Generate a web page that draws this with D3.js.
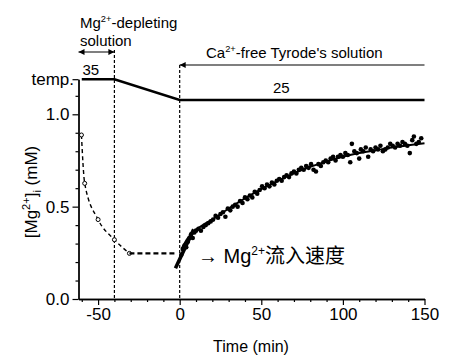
<!DOCTYPE html>
<html>
<head>
<meta charset="utf-8">
<script src="https://cdn.jsdelivr.net/npm/d3@7"></script>
<style>
  body { margin: 0; background: #fff; }
  text { font-family: "Liberation Sans", Arial, "Noto Sans CJK SC", sans-serif; fill: #000; }
</style>
</head>
<body>
<div id="chart"></div>
<script>
// depletion phase, open circles
var depTime = [-60.2, -58.2, -50, -40, -30.8];
var depMg   = [0.888, 0.626, 0.43, 0.321, 0.247];

// plateau before re-admission
var plateauTime = [-30.8, -2];
var plateauMg   = [0.247, 0.247];

// initial slope (influx rate)
var slopeTime = [-2.6, 8.6];
var slopeMg   = [0.166, 0.377];

// fitted recovery curve
var fitTime = [1, 5, 10, 15, 20, 30, 40, 50, 60, 70, 80, 90, 100, 110, 120, 130, 140, 150];
var fitMg   = [0.27, 0.33, 0.375, 0.405, 0.43, 0.49, 0.545, 0.595, 0.64, 0.68, 0.715, 0.745, 0.77, 0.79, 0.805, 0.82, 0.832, 0.843];

// measured recovery points
var dotTime = [1, 2, 3, 4, 5, 6, 7, 8, 9, 10, 11.5, 13, 14.5, 16, 17.5, 19, 20.5, 22, 23.5, 25,
  26.5, 28, 29.5, 31, 32.5, 34, 35.5, 37, 38.5, 40, 41.5, 43, 44.5, 46, 47.5, 49, 50.5, 52, 53.5, 55,
  56.5, 58, 59.5, 61, 62.5, 64, 65.5, 67, 68.5, 70, 71.5, 73, 74.5, 76, 77.5, 79, 80.5, 82, 83.5, 85,
  86.5, 88, 89.5, 91, 92.5, 94, 95.5, 97, 98.5, 100, 101.5, 103, 104.5, 105.5, 107, 108.5, 110, 111, 112.5, 114,
  115.5, 117, 118.5, 120, 121.5, 123, 124.5, 126, 127.5, 129, 130.5, 132, 133.5, 135, 136.5, 138, 139.5, 141, 142.5, 143.5,
  145, 146.5, 148];
var dotMg = [0.24, 0.27, 0.29, 0.28, 0.31, 0.33, 0.35, 0.33, 0.36, 0.37, 0.38, 0.37, 0.39, 0.40, 0.41, 0.42, 0.43, 0.45, 0.44, 0.46,
  0.47, 0.445, 0.49, 0.48, 0.50, 0.51, 0.50, 0.53, 0.52, 0.55, 0.54, 0.56, 0.55, 0.58, 0.57, 0.59, 0.61, 0.60, 0.62, 0.61,
  0.63, 0.62, 0.64, 0.65, 0.64, 0.66, 0.67, 0.66, 0.68, 0.69, 0.68, 0.70, 0.71, 0.70, 0.72, 0.71, 0.73, 0.70, 0.69, 0.73,
  0.72, 0.74, 0.75, 0.74, 0.76, 0.77, 0.75, 0.77, 0.78, 0.77, 0.79, 0.78, 0.74, 0.84, 0.80, 0.79, 0.76, 0.81, 0.80, 0.82,
  0.77, 0.81, 0.80, 0.82, 0.81, 0.83, 0.80, 0.81, 0.82, 0.84, 0.83, 0.82, 0.84, 0.83, 0.85, 0.84, 0.83, 0.79, 0.86, 0.88,
  0.84, 0.85, 0.87];

// bath temperature profile
var tempTime = [-60, -40, 0, 150];
var tempC    = [35, 35, 25, 25];

var xMajor = [-50, 0, 50, 100, 150];
var xMinor = [-60, -40, -30, -20, -10, 10, 20, 30, 40, 60, 70, 80, 90, 110, 120, 130, 140];
var yMajor = [0, 0.5, 1.0];
var yMinor = [0.1, 0.2, 0.3, 0.4, 0.6, 0.7, 0.8, 0.9, 1.1];

var W = 451, H = 360;

var x = d3.scaleLinear().domain([-62, 150]).range([78.5, 424.5]);
var y = d3.scaleLinear().domain([0, 1.19]).range([299, 79.2]);
// temperature is drawn in the strip above 1.0
var yT = d3.scaleLinear().domain([25, 35]).range([y(1.077), y(1.19)]);

var svg = d3.select("#chart").append("svg")
  .attr("width", W)
  .attr("height", H);

var defs = svg.append("defs");
defs.append("marker")
  .attr("id", "ah")
  .attr("viewBox", "0 0 10 10")
  .attr("refX", 10).attr("refY", 5)
  .attr("markerUnits", "userSpaceOnUse")
  .attr("markerWidth", 9).attr("markerHeight", 6)
  .attr("orient", "auto-start-reverse")
  .append("path")
  .attr("d", "M0,0L10,5L0,10z")
  .attr("fill", "#000");

// axes: minor then major ticks
svg.append("g")
  .attr("transform", "translate(0," + y(0) + ")")
  .call(d3.axisBottom(x).tickValues(xMinor).tickSize(3).tickFormat("").tickSizeOuter(0));
var gx = svg.append("g")
  .attr("transform", "translate(0," + y(0) + ")")
  .call(d3.axisBottom(x).tickValues(xMajor).tickSize(6).tickPadding(3)
    .tickFormat(d => String(d)).tickSizeOuter(0));
gx.selectAll("text").attr("font-size", 17).attr("font-family", null);

svg.append("g")
  .attr("transform", "translate(" + x(-62) + ",0)")
  .call(d3.axisLeft(y).tickValues(yMinor).tickSize(3).tickFormat("").tickSizeOuter(0));
var gy = svg.append("g")
  .attr("transform", "translate(" + x(-62) + ",0)")
  .call(d3.axisLeft(y).tickValues(yMajor.concat([1.19])).tickSize(6).tickPadding(3)
    .tickFormat(d => d > 1.1 ? "" : d.toFixed(1)).tickSizeOuter(0));
gy.selectAll("text").attr("font-size", 17).attr("font-family", null);
svg.selectAll(".domain").attr("stroke-width", 1.3);
svg.selectAll(".tick line").attr("stroke-width", 1.2);

svg.append("text")
  .attr("x", 74).attr("y", 85)
  .attr("text-anchor", "end")
  .attr("font-size", 17)
  .text("temp.");

svg.append("text")
  .attr("text-anchor", "middle")
  .attr("x", 251).attr("y", 352)
  .attr("font-size", 16)
  .text("Time (min)");

var yl = svg.append("text")
  .attr("text-anchor", "middle")
  .attr("transform", "translate(37,192) rotate(-90)")
  .attr("font-size", 17);
yl.append("tspan").text("[Mg");
yl.append("tspan").attr("font-size", 11).attr("dy", -7).text("2+");
yl.append("tspan").attr("dy", 7).text("]");
yl.append("tspan").attr("font-size", 11).attr("dy", 4).text("i");
yl.append("tspan").attr("dy", -4).text("  (mM)");

// dashed markers for solution changes
svg.append("line")
  .attr("x1", x(-40)).attr("x2", x(-40))
  .attr("y1", 50).attr("y2", y(0))
  .attr("stroke", "#000").attr("stroke-width", 1.2).attr("stroke-dasharray", "3,2");
svg.append("line")
  .attr("x1", x(0)).attr("x2", x(0))
  .attr("y1", 65).attr("y2", y(0))
  .attr("stroke", "#000").attr("stroke-width", 1.2).attr("stroke-dasharray", "3,2");

// solution arrows
svg.append("line")
  .attr("x1", x(-62)).attr("x2", x(-40))
  .attr("y1", 52).attr("y2", 52)
  .attr("stroke", "#000").attr("stroke-width", 1.2)
  .attr("marker-start", "url(#ah)").attr("marker-end", "url(#ah)");
svg.append("line")
  .attr("x1", x(150)).attr("x2", x(0))
  .attr("y1", 65).attr("y2", 65)
  .attr("stroke", "#000").attr("stroke-width", 1.2)
  .attr("marker-end", "url(#ah)");

function supText(xp, yp, fs, parts) {
  var t = svg.append("text").attr("x", xp).attr("y", yp).attr("font-size", fs);
  parts.forEach(function (p) {
    if (p.sup) t.append("tspan").attr("font-size", fs * 0.62).attr("dy", -fs * 0.42).text(p.s);
    else t.append("tspan").attr("dy", p.back ? fs * 0.42 : 0).text(p.s);
  });
  return t;
}
supText(80, 28, 15, [{s: "Mg"}, {s: "2+", sup: true}, {s: "-depleting", back: true}]);
svg.append("text").attr("x", 80).attr("y", 46).attr("font-size", 15).text("solution");
supText(206, 58, 15, [{s: "Ca"}, {s: "2+", sup: true}, {s: "-free Tyrode's solution", back: true}]);

// temperature trace
var tempPts = tempTime.map((t, i) => [t, tempC[i]]);
svg.append("path")
  .datum(tempPts)
  .attr("fill", "none").attr("stroke", "#000").attr("stroke-width", 2.6)
  .attr("d", d3.line().x(d => x(d[0])).y(d => yT(d[1])));
svg.append("text").attr("x", 82.5).attr("y", 75).attr("font-size", 15).text("35");
svg.append("text").attr("x", 273).attr("y", 93).attr("font-size", 15).text("25");

// depletion curve
var depPts = depTime.map((t, i) => [t, depMg[i]]);
svg.append("path")
  .datum(depPts)
  .attr("fill", "none").attr("stroke", "#000").attr("stroke-width", 1.4)
  .attr("stroke-dasharray", "4,3")
  .attr("d", d3.line().curve(d3.curveMonotoneX).x(d => x(d[0])).y(d => y(d[1])));
svg.selectAll(".dep")
  .data(depPts).enter().append("circle")
  .attr("cx", d => x(d[0])).attr("cy", d => y(d[1]))
  .attr("r", 2).attr("fill", "#fff").attr("stroke", "#000").attr("stroke-width", 1);

svg.append("path")
  .datum(plateauTime.map((t, i) => [t, plateauMg[i]]))
  .attr("fill", "none").attr("stroke", "#000").attr("stroke-width", 2.2)
  .attr("stroke-dasharray", "5,3")
  .attr("d", d3.line().x(d => x(d[0])).y(d => y(d[1])));

// recovery
svg.selectAll(".dot")
  .data(dotTime.map((t, i) => [t, dotMg[i]])).enter().append("circle")
  .attr("cx", d => x(d[0])).attr("cy", d => y(d[1]))
  .attr("r", 2.3).attr("fill", "#000");

svg.append("path")
  .datum(fitTime.map((t, i) => [t, fitMg[i]]))
  .attr("fill", "none").attr("stroke", "#000").attr("stroke-width", 2)
  .attr("d", d3.line().curve(d3.curveMonotoneX).x(d => x(d[0])).y(d => y(d[1])));

svg.append("path")
  .datum(slopeTime.map((t, i) => [t, slopeMg[i]]))
  .attr("fill", "none").attr("stroke", "#000").attr("stroke-width", 3.6)
  .attr("d", d3.line().x(d => x(d[0])).y(d => y(d[1])));

var ann = svg.append("text").attr("x", 198).attr("y", 263).attr("font-size", 20);
ann.append("tspan").text("\u2192 Mg");
ann.append("tspan").attr("font-size", 12).attr("dy", -8).text("2+");
ann.append("tspan").attr("dy", 8).text("流入速度");
</script>
</body>
</html>
